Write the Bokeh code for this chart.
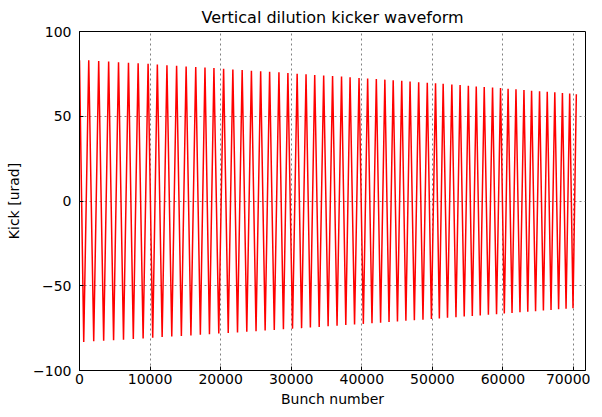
from bokeh.plotting import figure
from bokeh.models import Range1d, FixedTicker
from bokeh.embed import file_html
from bokeh.resources import INLINE

# Waveform extrema (bunch number, kick in urad)
start_bunch = [0]
start_kick = [83.0]

trough_bunch = [600, 2015, 3425, 4830, 6235, 7625, 9015, 10375, 11710, 13075,
                14435, 15790, 17125, 18415, 19735, 21075, 22390, 23705, 25015, 26305,
                27600, 28895, 30185, 31470, 32715, 33965, 35230, 36495, 37735, 38975,
                40220, 41445, 42665, 43860, 45055, 46250, 47450, 48670, 49865, 50990,
                52145, 53345, 54515, 55660, 56785, 57940, 59095, 60195, 61290, 62415,
                63520, 64625, 65735, 66815, 67890, 68945, 69930]
trough_kick = [-83.2, -82.8, -82.5, -82.1, -81.8, -81.4, -81.1, -80.7, -80.3, -80.0,
               -79.6, -79.3, -78.9, -78.6, -78.2, -77.8, -77.5, -77.1, -76.8, -76.4,
               -76.1, -75.7, -75.3, -75.0, -74.6, -74.3, -73.9, -73.6, -73.2, -72.8,
               -72.5, -72.1, -71.8, -71.4, -71.1, -70.7, -70.3, -70.0, -69.6, -69.3,
               -68.9, -68.6, -68.2, -67.8, -67.5, -67.1, -66.8, -66.4, -66.1, -65.7,
               -65.3, -65.0, -64.6, -64.3, -63.9, -63.6, -63.2]

peak_bunch = [1310, 2720, 4130, 5530, 6940, 8310, 9720, 11030, 12390, 13760,
              15110, 16470, 17780, 19050, 20420, 21730, 23050, 24360, 25670, 26940,
              28260, 29530, 30840, 32100, 33330, 34600, 35860, 37130, 38340, 39610,
              40830, 42060, 43270, 44450, 45660, 46840, 48060, 49280, 50450, 51530,
              52760, 53930, 55100, 56220, 57350, 58530, 59660, 60730, 61850, 62980,
              64060, 65190, 66280, 67350, 68430, 69460, 70400]
peak_kick = [83.0, 82.6, 82.3, 81.9, 81.6, 81.2, 80.9, 80.5, 80.1, 79.8,
             79.4, 79.1, 78.7, 78.4, 78.0, 77.6, 77.3, 76.9, 76.6, 76.2,
             75.9, 75.5, 75.1, 74.8, 74.4, 74.1, 73.7, 73.4, 73.0, 72.6,
             72.3, 71.9, 71.6, 71.2, 70.9, 70.5, 70.1, 69.8, 69.4, 69.1,
             68.7, 68.4, 68.0, 67.6, 67.3, 66.9, 66.6, 66.2, 65.9, 65.5,
             65.1, 64.8, 64.4, 64.1, 63.7, 63.4, 63.0]

x_ticks = [0, 10000, 20000, 30000, 40000, 50000, 60000, 70000]
y_ticks = [-100, -50, 0, 50, 100]
y_tick_labels = {-100: "\u2212100", -50: "\u221250", 0: "0", 50: "50", 100: "100"}

# interleave the extrema into one path
xs = list(start_bunch)
ys = list(start_kick)
for tb, tk, pb, pk in zip(trough_bunch, trough_kick, peak_bunch, peak_kick):
    xs += [tb, pb]
    ys += [tk, pk]

FONT = "DejaVu Sans"

p = figure(width=590, height=409, output_backend="svg", toolbar_location=None,
           x_range=Range1d(0, 71700), y_range=Range1d(-100, 100),
           min_border_left=79, min_border_right=5, min_border_top=25, min_border_bottom=5,
           title="Vertical dilution kicker waveform")
p.title.align = "center"
p.title.text_font = FONT
p.title.text_font_size = "16px"
p.title.text_font_style = "normal"
p.title.text_color = "#000000"

p.line(xs, ys, line_color="#ff0000", line_width=1.5)

p.outline_line_color = "#000000"
p.outline_line_width = 1
p.outline_line_alpha = 1

xa = p.xaxis[0]
ya = p.yaxis[0]
xa.ticker = FixedTicker(ticks=x_ticks)
ya.ticker = FixedTicker(ticks=y_ticks)
ya.major_label_overrides = y_tick_labels
xa.axis_label = "Bunch number"
ya.axis_label = "Kick [urad]"
for ax in (xa, ya):
    ax.axis_line_color = "#000000"
    ax.major_tick_in = 4
    ax.major_tick_out = 0
    ax.minor_tick_line_color = None
    ax.major_label_text_font = FONT
    ax.major_label_text_font_size = "14px"
    ax.major_label_text_color = "#000000"
    ax.axis_label_text_font = FONT
    ax.axis_label_text_font_size = "14px"
    ax.axis_label_text_font_style = "normal"
    ax.axis_label_text_color = "#000000"
xa.major_label_standoff = 3
ya.major_label_standoff = 8
xa.axis_label_standoff = 4
ya.axis_label_standoff = 8

p.xgrid.ticker = FixedTicker(ticks=x_ticks)
p.ygrid.ticker = FixedTicker(ticks=y_ticks)
for g in (p.xgrid, p.ygrid):
    g.grid_line_color = "#808080"
    g.grid_line_dash = "2 3"
    g.grid_line_width = 1

p.background_fill_color = "#ffffff"
p.border_fill_color = "#ffffff"

open("out.html", "w").write(file_html(p, INLINE))
